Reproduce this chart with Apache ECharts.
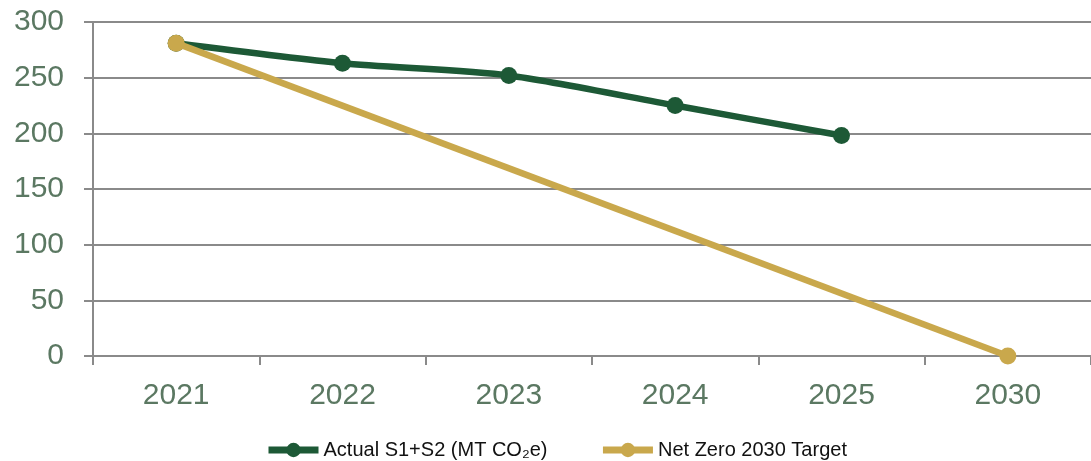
<!DOCTYPE html>
<html><head><meta charset="utf-8">
<script src="https://cdn.jsdelivr.net/npm/echarts@6/dist/echarts.min.js"></script>
<style>html,body{margin:0;padding:0;background:#fff}#c{width:1091px;height:461px}</style>
</head><body><div id="c"></div>
<script>
const categories = ['2021','2022','2023','2024','2025','2030'];
const actualValues = [281, 263, 252, 225, 198, null];
const targetValues = [281, null, null, null, null, 0];
const yTicks = {min: 0, max: 300, interval: 50};
const seriesNames = ['Actual S1+S2 (MT CO\u2082e)', 'Net Zero 2030 Target'];

const chart = echarts.init(document.getElementById('c'), null, {renderer: 'canvas'});
const axisGrey = '#8a8a8a';
const labelGreen = '#5b7862';
chart.setOption({
  animation: false,
  grid: {left: 93, right: -7, top: 22, bottom: 105, containLabel: false},
  legend: {
    top: 435, left: 260, itemGap: 52, itemWidth: 50, itemHeight: 18,
    lineStyle: {width: 7},
    textStyle: {fontFamily: 'Liberation Sans, Arial, sans-serif', fontSize: 20, color: '#111'},
    data: seriesNames
  },
  xAxis: {
    type: 'category', data: categories, boundaryGap: true,
    axisLine: {lineStyle: {color: axisGrey, width: 2}},
    axisTick: {show: true, length: 9, lineStyle: {color: axisGrey, width: 2}},
    axisLabel: {color: labelGreen, fontSize: 30, fontFamily: 'Liberation Sans, Arial, sans-serif', margin: 25}
  },
  yAxis: {
    type: 'value', min: yTicks.min, max: yTicks.max, interval: yTicks.interval,
    axisLine: {show: true, lineStyle: {color: axisGrey, width: 2}},
    axisTick: {show: true, length: 9, lineStyle: {color: axisGrey, width: 2}},
    splitLine: {show: true, lineStyle: {color: axisGrey, width: 2}},
    axisLabel: {color: labelGreen, fontSize: 30, fontFamily: 'Liberation Sans, Arial, sans-serif', margin: 29}
  },
  series: [
    {
      name: seriesNames[0], type: 'line', data: actualValues, smooth: 0.25,
      symbol: 'circle', symbolSize: 17, z: 2,
      lineStyle: {color: '#1d5936', width: 6.5},
      itemStyle: {color: '#1d5936'}
    },
    {
      name: seriesNames[1], type: 'line', data: targetValues, connectNulls: true,
      symbol: 'circle', symbolSize: 17, z: 3,
      lineStyle: {color: '#c9a84c', width: 6.5},
      itemStyle: {color: '#c9a84c'}
    }
  ]
});
</script></body></html>
